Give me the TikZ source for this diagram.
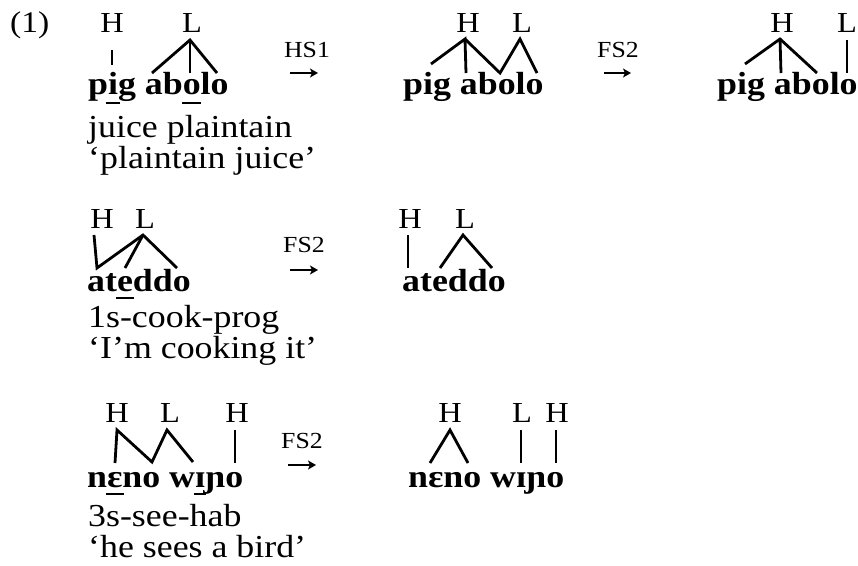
\documentclass[tikz,border=0pt]{standalone}
\usepackage{fontspec}
\setmainfont[FakeStretch=1.12]{Liberation Serif}
\usetikzlibrary{arrows.meta}
% underlined vowel: width, depth of bar below baseline, character
\newcommand\uvx[3]{\setbox0\hbox{#3}\rlap{\hbox to \wd0{\hss\rule[-#2]{#1}{2pt}\hss}}\box0}
\tikzset{
  tone/.style={anchor=base, inner sep=0pt, font=\fontsize{29}{30}\selectfont},
  word/.style={anchor=base west, inner sep=0pt, font=\fontsize{32}{36}\selectfont\bfseries},
  gloss/.style={anchor=base west, inner sep=0pt, font=\fontsize{32}{36}\selectfont},
  rulelab/.style={anchor=base, inner sep=0pt, font=\fontsize{23}{26}\selectfont},
  assoc/.style={line width=2.8pt, line join=miter},
  derive/.style={line width=2.2pt, -{Stealth[length=8pt,width=9pt,inset=2pt]}}
}
\begin{document}
\begin{tikzpicture}[x=1pt,y=-1pt]
\useasboundingbox (0,0) rectangle (858,565);
% example number
\node[anchor=base west, inner sep=0pt, font=\fontsize{30}{36}\selectfont] (exnum) at (10,32) {(1)};

% ===== Row 1, left =====
\node[tone] (aH) at (112,32) {H};
\node[tone] (aL) at (192,32) {L};
\node[word] (aW) at (88,94) {p\uvx{14pt}{10pt}{i}g ab\uvx{19pt}{10pt}{o}lo};
\node[gloss] (aG1) at (88,137) {juice plaintain};
\node[gloss] (aG2) at (88,168) {‘plaintain juice’};
\coordinate (aHt) at (112,50); \coordinate (aHb) at (112,65);
\coordinate (aLt) at (190,40);
\coordinate (aL1) at (152,73); \coordinate (aL2) at (190,73); \coordinate (aL3) at (217,73);
\draw[assoc] (aHt) -- (aHb);
\draw[assoc] (aL1) -- (aLt) -- (aL3);
\draw[assoc] (aLt) -- (aL2);

% rule HS1
\node[rulelab] (r1) at (307,57) {HS1};
\coordinate (r1s) at (290,73); \coordinate (r1e) at (318,73);
\draw[derive] (r1s) -- (r1e);

% ===== Row 1, middle =====
\node[tone] (bH) at (468,32) {H};
\node[tone] (bL) at (522,32) {L};
\node[word] (bW) at (403,94) {pig abolo};
\coordinate (bHt) at (465,39); \coordinate (bLt) at (520,39);
\coordinate (b1) at (431,64); \coordinate (b2) at (466,73);
\coordinate (b3) at (500,73); \coordinate (b4) at (537,73);
\draw[assoc] (b1) -- (bHt) -- (b2);
\draw[assoc] (bHt) -- (b3) -- (bLt) -- (b4);

% rule FS2
\node[rulelab] (r2) at (618,57) {FS2};
\coordinate (r2s) at (604,73); \coordinate (r2e) at (631,73);
\draw[derive] (r2s) -- (r2e);

% ===== Row 1, right =====
\node[tone] (cH) at (782,32) {H};
\node[tone] (cL) at (847,32) {L};
\node[word] (cW) at (717,94) {pig abolo};
\coordinate (cHt) at (780,39);
\coordinate (c1) at (745,64); \coordinate (c2) at (781,73); \coordinate (c3) at (817,73);
\coordinate (cLt) at (847,40); \coordinate (cLb) at (847,73);
\draw[assoc] (c1) -- (cHt) -- (c3);
\draw[assoc] (cHt) -- (c2);
\draw[assoc] (cLt) -- (cLb);

% ===== Row 2, left =====
\node[tone] (dH) at (102,228) {H};
\node[tone] (dL) at (145,228) {L};
\node[word] (dW) at (87,291) {at\uvx{18pt}{8pt}{e}ddo};
\node[gloss] (dG1) at (88,327) {1s-cook-prog};
\node[gloss] (dG2) at (88,358) {‘I’m cooking it’};
\coordinate (dHt) at (94,235); \coordinate (d1) at (97,268);
\coordinate (dLt) at (143,235);
\coordinate (d2) at (125,268); \coordinate (d3) at (177,268);
\draw[assoc] (dHt) -- (d1) -- (dLt) -- (d3);
\draw[assoc] (d2) -- (dLt);

\node[rulelab] (r3) at (304,252) {FS2};
\coordinate (r3s) at (290,270); \coordinate (r3e) at (318,270);
\draw[derive] (r3s) -- (r3e);

% ===== Row 2, right =====
\node[tone] (eH) at (410,228) {H};
\node[tone] (eL) at (465,228) {L};
\node[word] (eW) at (402,291) {ateddo};
\coordinate (eHt) at (408,235); \coordinate (eHb) at (408,268);
\coordinate (eLt) at (463,235);
\coordinate (e1) at (440,268); \coordinate (e2) at (492,268);
\draw[assoc] (eHt) -- (eHb);
\draw[assoc] (e1) -- (eLt) -- (e2);

% ===== Row 3, left =====
\node[tone] (fH) at (117,422) {H};
\node[tone] (fL) at (170,422) {L};
\node[tone] (fH2) at (237,422) {H};
\node[word] (fW) at (87,487) {n\uvx{18pt}{8pt}{ɛ}no w\uvx{12pt}{8pt}{ɪ}ɲo};
\node[gloss] (fG1) at (88,526) {3s-see-hab};
\node[gloss] (fG2) at (88,557) {‘he sees a bird’};
\coordinate (fHt) at (117,430); \coordinate (f0) at (115,463);
\coordinate (f1) at (152,462); \coordinate (fLt) at (167,430);
\coordinate (f2) at (193,462);
\coordinate (fH2t) at (235,430); \coordinate (fH2b) at (235,463);
\draw[assoc] (f0) -- (fHt) -- (f1) -- (fLt) -- (f2);
\draw[assoc] (fH2t) -- (fH2b);

\node[rulelab] (r4) at (302,448) {FS2};
\coordinate (r4s) at (288,465); \coordinate (r4e) at (316,465);
\draw[derive] (r4s) -- (r4e);

% ===== Row 3, right =====
\node[tone] (gH) at (450,422) {H};
\node[tone] (gL) at (522,422) {L};
\node[tone] (gH2) at (557,422) {H};
\node[word] (gW) at (408,487) {nɛno wɪɲo};
\coordinate (gHt) at (450,430);
\coordinate (g1) at (430,463); \coordinate (g2) at (468,463);
\coordinate (gLt) at (521,430); \coordinate (gLb) at (521,463);
\coordinate (gH2t) at (556,430); \coordinate (gH2b) at (556,463);
\draw[assoc] (g1) -- (gHt) -- (g2);
\draw[assoc] (gLt) -- (gLb);
\draw[assoc] (gH2t) -- (gH2b);
\end{tikzpicture}
\end{document}
